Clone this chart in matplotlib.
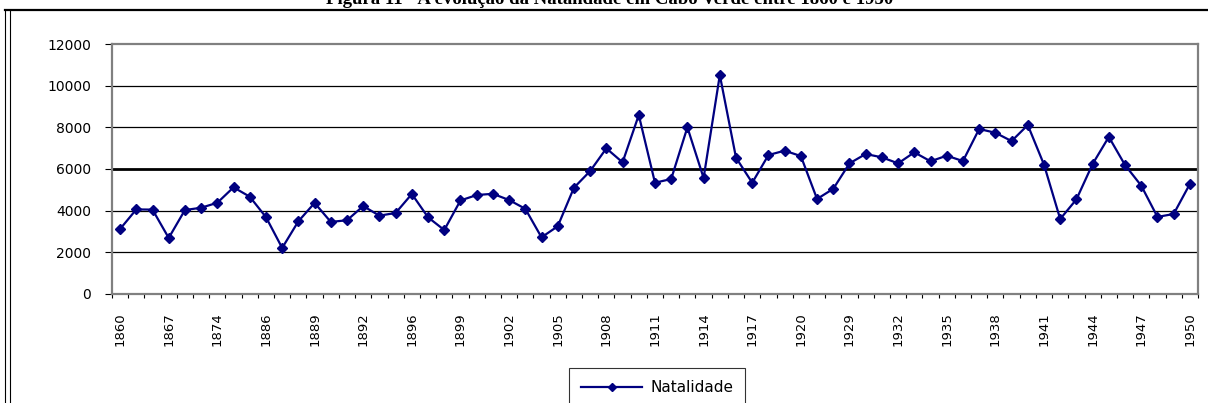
import numpy as np
import matplotlib.pyplot as plt
from matplotlib.lines import Line2D

# years as categories (only every third one is labelled on the axis)
years = [1860, 1864, 1865, 1867, 1870, 1872, 1874, 1876, 1880,
         1886, 1887, 1888, 1889, 1890, 1891, 1892, 1893, 1895,
         1896, 1897, 1898, 1899, 1900, 1901, 1902, 1903, 1904,
         1905, 1906, 1907, 1908, 1909, 1910, 1911, 1912, 1913,
         1914, 1915, 1916, 1917, 1918, 1919, 1920, 1921, 1928,
         1929, 1930, 1931, 1932, 1933, 1934, 1935, 1936, 1937,
         1938, 1939, 1940, 1941, 1942, 1943, 1944, 1945, 1946,
         1947, 1948, 1949, 1950]

natalidade = [3120, 4060, 4050, 2690, 4030, 4140, 4380, 5120, 4670,
              3690, 2210, 3490, 4370, 3460, 3540, 4220, 3760, 3890,
              4800, 3680, 3070, 4490, 4750, 4810, 4510, 4090, 2720,
              3250, 5100, 5900, 6990, 6320, 8590, 5340, 5520, 8000,
              5570, 10510, 6540, 5340, 6670, 6880, 6620, 4560, 5050,
              6270, 6720, 6560, 6270, 6800, 6370, 6640, 6380, 7920,
              7740, 7340, 8110, 6210, 3600, 4540, 6240, 7540, 6190,
              5200, 3700, 3840, 5280]

y_ticks = [0, 2000, 4000, 6000, 8000, 10000, 12000]

fig = plt.figure(figsize=(12.08, 4.03), dpi=100)
ax = fig.add_axes([0.0927, 0.2705, 0.899, 0.6203])

x = np.arange(len(years))
ax.plot(x, natalidade, color="#000080", linewidth=1.6,
        marker="D", markersize=5, label="Natalidade")

ax.set_xlim(-0.5, len(years) - 0.5)
ax.set_ylim(0, 12000)

# gridlines (the 6000 one is drawn heavier in the original)
for v in y_ticks[1:-1]:
    ax.axhline(v, color="black", linewidth=2 if v == 6000 else 0.9, zorder=0)

ax.set_yticks(y_ticks)
ax.set_yticklabels([str(v) for v in y_ticks], fontsize=10)
ax.tick_params(axis="y", direction="out", length=5, width=0.8,
               color="black", pad=10)

ax.set_xticks(x[::3])
ax.set_xticklabels([str(years[i]) for i in x[::3]], rotation=90, fontsize=9.5)
ax.set_xticks(np.arange(len(years) + 1) - 0.5, minor=True)
ax.tick_params(axis="x", which="major", length=0, pad=13)
ax.tick_params(axis="x", which="minor", direction="out", length=3,
               width=0.8, color="black")

for s in ax.spines.values():
    s.set_color("#808080")
    s.set_linewidth(1.6)

# title, half cut by the top of the image as in the scan
fig.text(0.505, 0.99, "Figura 11 - A evolução da Natalidade em Cabo Verde entre 1860 e 1950",
         ha="center", va="baseline", fontsize=13.5, fontweight="bold",
         family="Liberation Serif")

# page frame lines
fig.add_artist(Line2D([0.004, 1.0], [0.974, 0.974], color="black", linewidth=1.6))
fig.add_artist(Line2D([0.004, 0.004], [0.0, 0.974], color="black", linewidth=0.8))
fig.add_artist(Line2D([0.008, 0.008], [0.0, 0.974], color="black", linewidth=0.8))

leg = fig.legend(loc="upper center", bbox_to_anchor=(0.544, 0.087),
                 fontsize=11, frameon=True, fancybox=False, edgecolor="black",
                 handlelength=4.0, handletextpad=0.5, borderpad=0.8,
                 borderaxespad=0, markerscale=0.8)
leg.get_frame().set_linewidth(0.8)

fig.savefig("out.png", dpi=100)
